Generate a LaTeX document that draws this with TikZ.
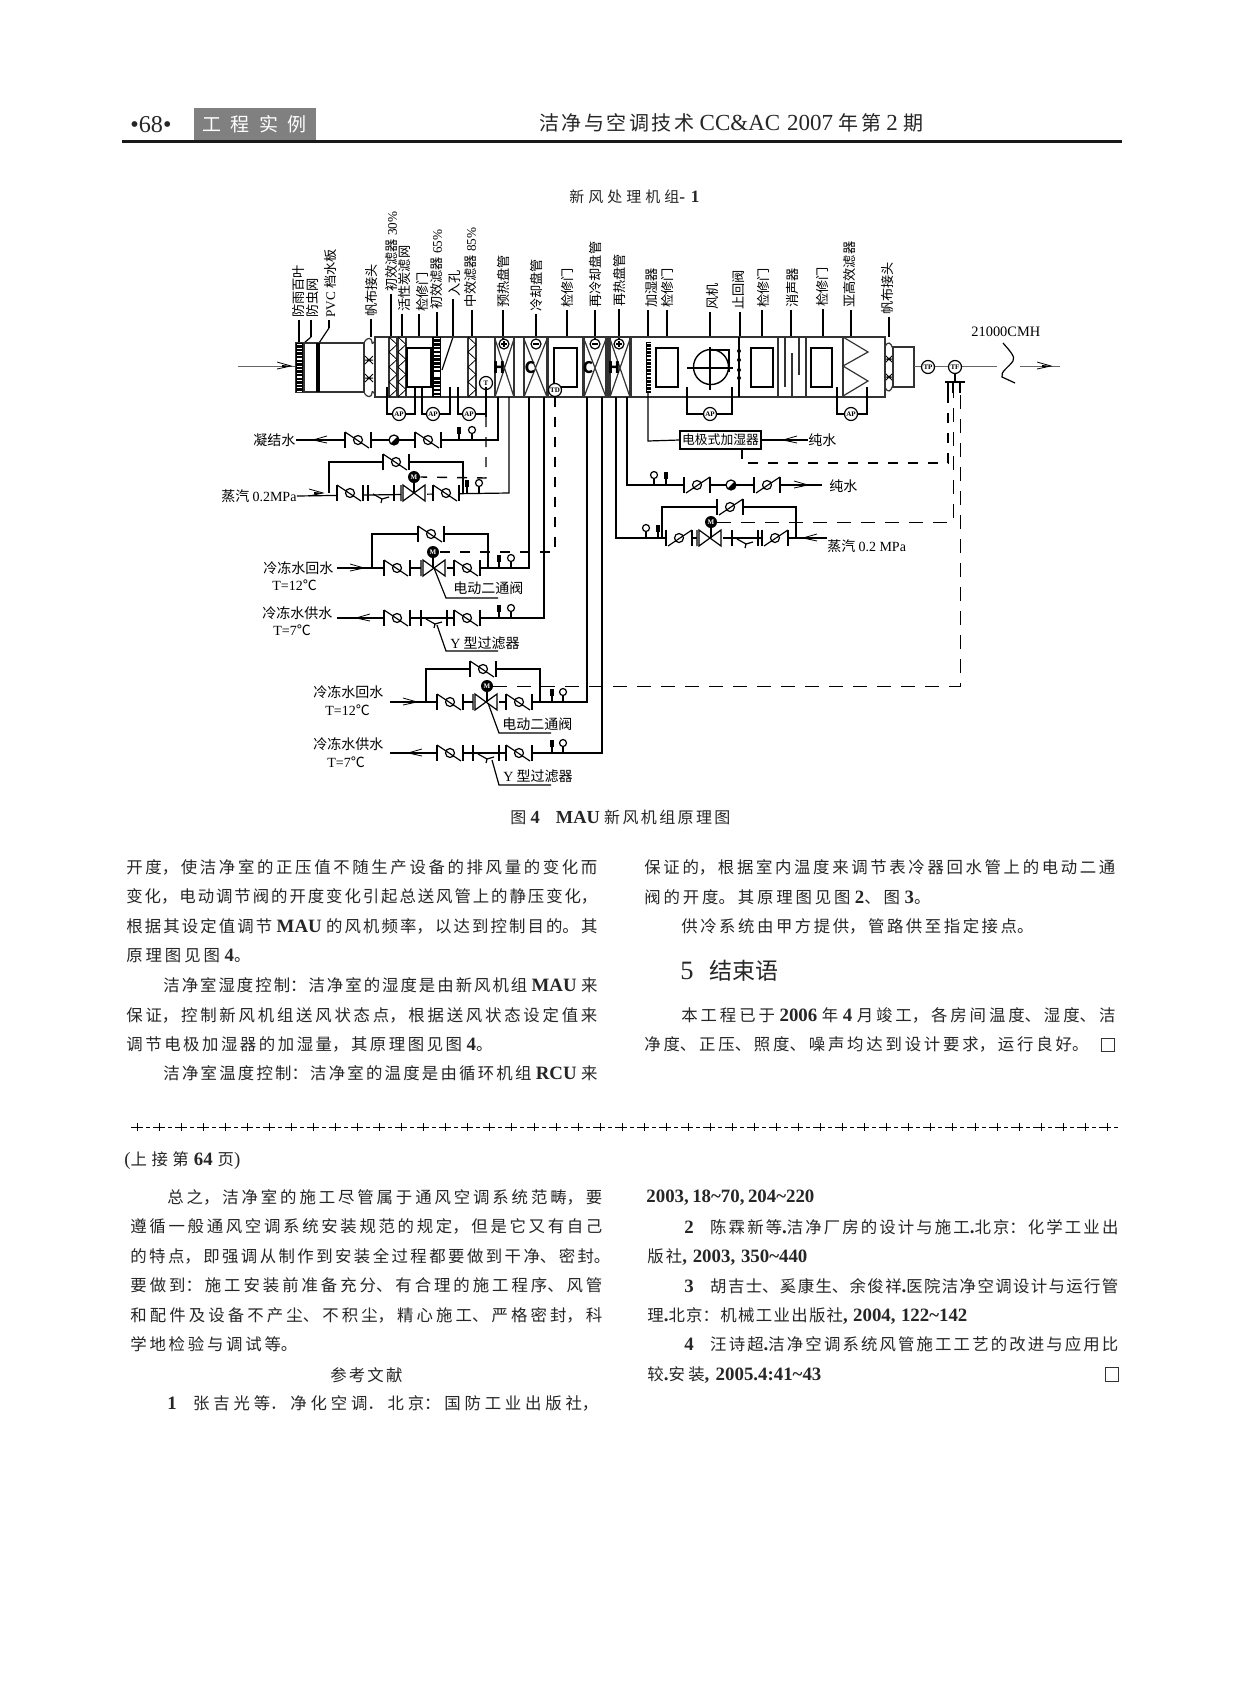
\documentclass[tikz,border=0pt]{standalone}
\usepackage{fontspec}
\setmainfont{Noto Sans CJK SC}
\newfontfamily\tm{Liberation Serif}
\newfontfamily\tmb[Scale=1.15]{Liberation Serif}
\XeTeXlinebreaklocale "zh"
\XeTeXlinebreakskip=0pt plus 3pt
\newcommand{\lat}[1]{{\tm #1}}
\newcommand{\latr}[1]{{\tmb #1}}
\newcommand{\latb}[1]{{\tmb\bfseries #1}}
\tikzset{
  pipe/.style={line width=0.6pt, black},
  unitline/.style={line width=0.6pt, black!80},
  dashthick/.style={line width=0.7pt, dash pattern=on 5pt off 5pt},
  dashthin/.style={line width=0.4pt, dash pattern=on 7pt off 5pt},
  bodyline/.style={anchor=west, inner sep=0pt, align=justify, black!85, font=\fontsize{8.2}{10}\selectfont,
    execute at begin node={\parfillskip=0pt\relax\let\lat\latb}},
  vlabel/.style={rotate=90, anchor=west, inner sep=0pt, inner xsep=1pt, font=\fontsize{6.6}{8}\selectfont},
  sidelabel/.style={anchor=west, inner sep=0pt, font=\fontsize{7}{9}\selectfont},
  templabel/.style={sidelabel, font=\tm\fontsize{7}{9}\selectfont},
  gaugecircle/.style={circle, draw, line width=0.6pt, fill=white, inner sep=0pt, minimum size=6.5pt, font=\tm\bfseries\fontsize{3.5}{4}\selectfont},
  motorhead/.style={circle, fill=black, text=white, inner sep=0pt, minimum size=6pt, font=\tm\bfseries\fontsize{3.5}{4}\selectfont},
  coilletter/.style={inner sep=0pt, font=\bfseries\fontsize{8}{10}\selectfont},
  valvemark/.pic={\fill[white] (-13,-8) rectangle (13,8);
    \draw[pipe] (-13,-8) -- (-13,8) (13,-8) -- (13,8);
    \draw[pipe] (0,0) circle (4.5);
    \draw[pipe] (-13,-8) -- (11,8);},
  twoway/.pic={\fill[white] (-13,-8) rectangle (13,8);
    \draw[pipe] (-13,-8) -- (-13,8) (-11,-8) -- (11,8) -- (11,-8) -- (-11,8) -- cycle;},
  strainer/.pic={\draw[pipe] (-13,-8) -- (-13,8) (13,-8) -- (13,8);
    \draw[pipe] (-8,1) -- (1,6) -- (8,4) (1,6) -- (0,10);},
  ballmark/.pic={\fill[white] (0,0) circle (5);
    \draw[pipe] (0,0) circle (5);
    \fill (3.5,-3.5) arc (-45:135:5) -- cycle;},
  airarrow/.pic={\draw[line width=0.4pt] (-7,-4) -- (7,0) -- (-7,3);
    \fill (-2,-1) -- (7,0) -- (-2,1.5) -- cycle;},
  gaugerect/.pic={\draw[pipe] (0,0) -- (0,-6); \fill (-2,-13) rectangle (2,-6);},
  gaugeround/.pic={\draw[pipe] (0,0) -- (0,-6); \draw[pipe] (0,-10) circle (3.5);},
  jointmark/.pic={\draw[line width=0.5pt] (-4,-4) -- (4,4) (-4,4) -- (4,-4) (-4,0) -- (4,0);
    \fill (0,0) circle (1.5);},
}
\begin{document}
\begin{tikzpicture}[x=0.5pt,y=-0.5pt]
  \fill[white] (0,0) rectangle (1247,1687);
  \path[use as bounding box] (0,0) rectangle (1247,1687);

  % page head
  \fill[black!50] (194,108) rectangle (316,140);
  \fill[black!90] (122,140) rectangle (1122,142.5);
  \node[anchor=west, inner sep=0pt, black!85, font=\tmb\fontsize{10.5}{12}\selectfont] (pagenum) at (130,125) {•68•};
  \node[bodyline, white, text width=52pt, font=\fontsize{9.5}{11}\selectfont] (column) at (202,124) {工程实例};
  \node[bodyline, text width=192pt, font=\fontsize{10}{12}\selectfont] (journal) at (539,123) {洁净与空调技术 \latr{CC\&AC 2007} 年第 \latr{2} 期};
  \node[bodyline, text width=65pt, font=\fontsize{7.5}{9}\selectfont] (title) at (569,197) {新风处理机组\lat{- 1}};

  % labels over the unit
  \foreach \nm/\lx/\ly/\ex/\ey/\txt in {
    lbla/299/320/299/343/防雨百叶, lblb/313/320/311/337/防虫网, lblc/330/320/329/328/\lat{PVC} 档水板,
    lbld/372/319/371/337/帆布接头, lble/392/294/391/337/初效滤器 \lat{30\%}, lblf/405/314/402/337/活性炭滤网,
    lblg/422/314/419/337/检修门, lblh/437/312/437/337/初效滤器 \lat{65\%}, lbli/455/299/453/337/入孔,
    lblj/471/310/472/337/中效滤器 \lat{85\%}, lblk/503/310/503/343/预热盘管, lbll/536/314/536/337/冷却盘管,
    lblm/567/310/567/337/检修门, lbln/595/310/595/339/再冷却盘管, lblo/619/309/619/339/再热盘管,
    lblp/652/310/648/337/加湿器, lblq/667/310/667/337/检修门, lblr/712/312/710/337/风机,
    lbls/738/312/740/337/止回阀, lblt/763/310/762/337/检修门, lblu/792/310/791/337/消声器,
    lblv/822/309/823/337/检修门, lblw/849/310/851/337/亚高效滤器, lblx/888/317/889/337/帆布接头}
  {
    \node[vlabel] (\nm) at (\lx,\ly) {\txt};
    \draw[pipe] (\ex,0 |- \nm.west) -- (\ex,\ey);
  }
  \draw[pipe] (311,337) -- (304,343);
  \draw[pipe] (329,328) -- (319,343);
  \draw[pipe] (453,337) -- (442,370);

  % intake
  \draw[line width=0.4pt, black!60] (238,366) -- (296,366);
  \pic at (284,366) {airarrow};
  \draw[unitline] (296,343) rectangle (364,392);
  \fill (296,343) rectangle (303,392);
  \draw[white, line width=2.5pt, dash pattern=on 0.6pt off 1.2pt] (299.5,344) -- (299.5,391);
  \draw[unitline] (304,343) -- (304,392);
  \fill (316,343) rectangle (320,392);

  % flexible joints
  \draw[unitline] (364,343) .. controls (367,336) and (372,338) .. (372,342) .. controls (372,345) and (373,343) .. (375,341);
  \draw[unitline] (364,392) .. controls (367,399) and (372,397) .. (372,393) .. controls (372,390) and (373,392) .. (375,394);
  \draw[unitline] (885,347) .. controls (888,340) and (891,343) .. (893,349);
  \draw[unitline] (885,387) .. controls (888,394) and (891,391) .. (893,385);
  \foreach \jx/\jy in {369/360, 369/378, 889/359, 889/377} \pic at (\jx,\jy) {jointmark};

  % housing
  \draw[unitline] (375,337) rectangle (885,397);
  \foreach \px in {548,583,607,609,631,778,806,843} \draw[unitline] (\px,337) -- (\px,397);
  \draw[line width=0.8pt] (739,337) -- (739,397);
  \foreach \dy in {351,360,370,378} \fill (739,\dy) circle (2);

  % filters
  \foreach \fx in {389,398,468} {
    \draw[unitline] (\fx,337) rectangle (\fx+8,397);
    \foreach \i in {0,...,7} \draw[line width=0.4pt] ({\fx+8*mod(\i,2)},{337+7.5*\i}) -- ({\fx+8-8*mod(\i,2)},{337+7.5*(\i+1)});
  }
  \fill (432,337) rectangle (441,397);
  \draw[white, line width=3pt, dash pattern=on 0.7pt off 1.2pt] (436.5,338) -- (436.5,396);
  \fill[white] (433.5,372) rectangle (439.5,377);
  \fill (646,342) rectangle (651,393);
  \draw[white, line width=2pt, dash pattern=on 0.6pt off 1.2pt] (648.5,343) -- (648.5,392);

  % access doors
  \foreach \ax/\bx in {407/431,554/577,656/678,751/773,811/832} \draw[line width=0.8pt] (\ax,348) rectangle (\bx,387);

  % coils
  \foreach \cl/\cr in {495/514,524/547,584/606,610/630} {
    \draw[unitline] (\cl,337) -- (\cl,397) (\cr,337) -- (\cr,397);
    \draw[unitline] (\cl,339) -- (\cr,397) (\cr,339) -- (\cl,397);
  }
  \foreach \sx in {504,536,595,619} {\fill[white] (\sx,344) circle (5); \draw[pipe] (\sx,344) circle (5); \draw[pipe] (\sx-3,344) -- (\sx+3,344);}
  \foreach \sx in {504,619} \draw[pipe] (\sx,341) -- (\sx,347);
  \node[coilletter] (coila) at (499,368) {H};
  \node[coilletter] (coilb) at (530,368) {C};
  \node[coilletter] (coilc) at (588,368) {C};
  \node[coilletter] (coild) at (614,368) {H};

  % fan and silencer
  \draw[line width=0.7pt] (711,367) circle (17.5);
  \draw[line width=0.8pt] (711,350) -- (729,350) -- (729,372);
  \draw[pipe] (687,368) -- (733,368) (710,347) -- (710,390);
  \draw[unitline] (785,337) -- (785,387) (792,353) -- (792,397) (799,337) -- (799,375);
  \draw[unitline] (843,337) -- (868,352) -- (843,366) -- (868,381) -- (843,396);

  % outlet
  \draw[unitline] (893,347) rectangle (914,387);
  \draw[line width=0.4pt, black!60] (914,366) -- (997,366) (1020,366) -- (1060,366);
  \pic at (1044,366) {airarrow};
  \draw[pipe] (1003,343) .. controls (1009,350) and (1016,357) .. (1013,361) .. controls (1009,367) and (1000,372) .. (1002,377) -- (1015,383);
  \node[anchor=west, inner sep=0pt, font=\tm\fontsize{7.2}{9}\selectfont] (flow) at (971,332) {21000CMH};

  % instruments
  \node[gaugecircle] (ctlt) at (486,383) {T};
  \node[gaugecircle] (ctld) at (555,390) {TD};
  \node[gaugecircle] (ctlp) at (928,367) {TP};
  \node[gaugecircle] (ctlf) at (955,367) {TF};
  \foreach \nm/\gx/\gl/\gr/\gy in {apa/399/387/415/387, apb/433/422/450/387, apc/469/458/486/387, apd/710/687/732/387, ape/851/837/867/387} {
    \node[gaugecircle] (\nm) at (\gx,414) {AP};
    \draw[pipe] (\gl,\gy) |- (\nm.west) (\nm.east) -| (\gr,\gy);
  }
  \draw[line width=0.8pt] (ctlf.south) -- (955,382) (945,382) -- (965,382);
  \foreach \tx in {948,953,960} \draw[pipe] (\tx,382) -- (\tx,393);

  % condensate
  \node[sidelabel] (cond) at (253,440) {凝结水};
  \draw[pipe] (cond.east) -- (498,440) -- (498,397);
  \pic[xscale=-1] at (320,440) {airarrow};
  \foreach \vx in {358,428} \pic at (\vx,440) {valvemark};
  \pic at (394,440) {ballmark};
  \pic at (459,440) {gaugerect};
  \pic at (472,440) {gaugeround};

  % steam, left
  \node[sidelabel] (steama) at (221,496) {蒸汽 \lat{0.2MPa}};
  \draw[pipe] (steama.east) -- (509,493) -- (509,397);
  \draw[pipe] (329,493) -- (329,462) -- (463,462) -- (463,493);
  \pic at (316,493) {airarrow};
  \foreach \vx/\vy in {350/493,446/493,396/462} \pic at (\vx,\vy) {valvemark};
  \pic at (381,493) {strainer};
  \pic at (414,493) {twoway};
  \node[motorhead] (mota) at (414,477) {M};
  \draw[pipe] (mota) -- (414,493);
  \pic at (467,493) {gaugerect};
  \pic at (479,493) {gaugeround};
  \draw[pipe] (ctlt.south) -- (486,417);
  \draw[dashthick] (486,417) -- (486,478) -- (mota.east);

  % chilled water, first pair
  \node[sidelabel] (rtna) at (263,568) {冷冻水回水};
  \node[templabel] (rtnat) at (272,585) {T=12{\rmfamily ℃}};
  \draw[pipe] (337,568) -- (529,568) -- (529,397);
  \draw[pipe] (372,568) -- (372,534) -- (488,534) -- (488,568);
  \pic at (357,568) {airarrow};
  \foreach \vx/\vy in {397/568,467/568,431/534} \pic at (\vx,\vy) {valvemark};
  \pic at (434,568) {twoway};
  \node[motorhead] (motb) at (433,552) {M};
  \draw[pipe] (motb) -- (433,568);
  \pic at (499,568) {gaugerect};
  \pic at (511,568) {gaugeround};
  \draw[pipe] (434,568) -- (446,598) -- (498,598);
  \node[sidelabel] (vlva) at (453,588) {电动二通阀};
  \draw[dashthick] (ctld.south) -- (555,552) -- (motb.east);

  \node[sidelabel] (supa) at (262,613) {冷冻水供水};
  \node[templabel] (supat) at (273,630) {T=7{\rmfamily ℃}};
  \draw[pipe] (337,618) -- (544,618) -- (544,397);
  \pic[xscale=-1] at (363,618) {airarrow};
  \foreach \vx in {397,467} \pic at (\vx,618) {valvemark};
  \pic at (434,618) {strainer};
  \pic at (499,618) {gaugerect};
  \pic at (511,618) {gaugeround};
  \draw[pipe] (437,625) -- (446,651) -- (498,651);
  \node[sidelabel] (fltra) at (450,643) {\lat{Y} 型过滤器};

  % chilled water, second pair
  \node[sidelabel] (rtnb) at (313,692) {冷冻水回水};
  \node[templabel] (rtnbt) at (325,710) {T=12{\rmfamily ℃}};
  \draw[pipe] (390,702) -- (587,702) -- (587,397);
  \draw[pipe] (426,702) -- (426,669) -- (540,669) -- (540,702);
  \pic at (410,702) {airarrow};
  \foreach \vx/\vy in {450/702,519/702,483/669} \pic at (\vx,\vy) {valvemark};
  \pic at (486,702) {twoway};
  \node[motorhead] (motc) at (487,686) {M};
  \draw[pipe] (motc) -- (487,702);
  \pic at (552,702) {gaugerect};
  \pic at (563,702) {gaugeround};
  \draw[pipe] (488,703) -- (499,733) -- (551,733);
  \node[sidelabel] (vlvb) at (502,724) {电动二通阀};

  \node[sidelabel] (supb) at (313,744) {冷冻水供水};
  \node[templabel] (supbt) at (327,762) {T=7{\rmfamily ℃}};
  \draw[pipe] (390,753) -- (602,753) -- (602,397);
  \pic[xscale=-1] at (415,753) {airarrow};
  \foreach \vx in {450,519} \pic at (\vx,753) {valvemark};
  \pic at (486,753) {strainer};
  \pic at (552,753) {gaugerect};
  \pic at (563,753) {gaugeround};
  \draw[pipe] (492,760) -- (499,785) -- (551,785);
  \node[sidelabel] (fltrb) at (503,776) {\lat{Y} 型过滤器};
  \draw[dashthin] (motc.east) -- (960,686) -- (960,393);

  % humidifier
  \node[draw, line width=0.7pt, inner sep=0pt, minimum width=40.5pt, minimum height=9pt, font=\fontsize{6.4}{8}\selectfont] (humid) at (720.5,440) {电极式加湿器};
  \node[sidelabel] (purea) at (808,440) {纯水};
  \draw[pipe] (648,393) -- (648,441) -- (humid.west);
  \draw[pipe] (humid.east) -- (purea.west);
  \pic[xscale=-1] at (790,440) {airarrow};
  \draw[dashthick] (742,449) -- (742,463) -- (948,463) -- (948,393);

  % pure water
  \node[sidelabel] (pureb) at (829,486) {纯水};
  \draw[pipe] (627,397) -- (627,485) -- (822,485);
  \foreach \vx in {697,767} \pic[xscale=-1] at (\vx,485) {valvemark};
  \pic at (731,485) {ballmark};
  \pic at (801,485) {airarrow};
  \pic at (654,485) {gaugeround};
  \pic at (666,485) {gaugerect};

  % steam, right
  \node[sidelabel] (steamb) at (827,546) {蒸汽 \lat{0.2 MPa}};
  \draw[pipe] (616,397) -- (616,538) -- (827,538);
  \draw[pipe] (662,538) -- (662,507) -- (796,507) -- (796,538);
  \foreach \vx/\vy in {679/538,775/538,730/507} \pic[xscale=-1] at (\vx,\vy) {valvemark};
  \pic at (710,538) {twoway};
  \pic at (745,538) {strainer};
  \pic[xscale=-1] at (810,538) {airarrow};
  \node[motorhead] (motd) at (711,522) {M};
  \draw[pipe] (motd) -- (711,538);
  \pic at (646,538) {gaugeround};
  \pic at (658,538) {gaugerect};
  \draw[dashthin] (motd.east) -- (953,522) -- (953,393);

  \node[bodyline, text width=110pt, font=\fontsize{8}{10}\selectfont] (caption) at (510,817) {图 \lat{4}\quad\lat{MAU} 新风机组原理图};

  % text lines
  \foreach \nm/\lx/\ly/\lw/\txt in {
    ta/126/867/471/开度，使洁净室的正压值不随生产设备的排风量的变化而,
    tb/126/896/471/变化，电动调节阀的开度变化引起总送风管上的静压变化，,
    tc/126/926/471/根据其设定值调节 \lat{MAU} 的风机频率，以达到控制目的。其,
    td/126/956/124/原理图见图 \lat{4}。,
    te/163/985/434/洁净室湿度控制：洁净室的湿度是由新风机组 \lat{MAU} 来,
    tf/126/1015/471/保证，控制新风机组送风状态点，根据送风状态设定值来,
    tg/126/1044/366/调节电极加湿器的加湿量，其原理图见图 \lat{4}。,
    th/163/1073/434/洁净室温度控制：洁净室的温度是由循环机组 \lat{RCU} 来,
    ti/644/867/471/保证的，根据室内温度来调节表冷器回水管上的电动二通,
    tj/644/897/286/阀的开度。其原理图见图 \lat{2}、图 \lat{3}。,
    tk/681/926/352/供冷系统由甲方提供，管路供至指定接点。,
    tl/681/1015/434/本工程已于 \lat{2006} 年 \lat{4} 月竣工，各房间温度、湿度、洁,
    tm/644/1044/444/净度、正压、照度、噪声均达到设计要求，运行良好。,
    tn/167/1197/435/总之，洁净室的施工尽管属于通风空调系统范畴，要,
    to/130/1226/472/遵循一般通风空调系统安装规范的规定，但是它又有自己,
    tp/130/1256/480/的特点，即强调从制作到安装全过程都要做到干净、密封。,
    tq/130/1285/472/要做到：施工安装前准备充分、有合理的施工程序、风管,
    tr/130/1315/472/和配件及设备不产尘、不积尘，精心施工、严格密封，科,
    ts/130/1344/167/学地检验与调试等。,
    tt/167/1403/431/\lat{1}\quad 张吉光等．净化空调．北京：国防工业出版社，,
    tu/646/1198/168/\lat{{2003, 18\textasciitilde 70, 204\textasciitilde 220}},
    tv/684/1227/434/\lat{2}\quad 陈霖新等\lat{.}洁净厂房的设计与施工\lat{.}北京：化学工业出,
    tw/647/1257/160/版社\lat{{, 2003, 350\textasciitilde 440}},
    tx/684/1286/434/\lat{3}\quad 胡吉士、奚康生、余俊祥\lat{.}医院洁净空调设计与运行管,
    ty/647/1316/320/理\lat{.}北京：机械工业出版社\lat{{, 2004, 122\textasciitilde 142}},
    tz/684/1344/434/\lat{4}\quad 汪诗超\lat{.}洁净空调系统风管施工工艺的改进与应用比,
    tzz/647/1375/174/较\lat{.}安装\lat{{, 2005.4:41\textasciitilde 43}}}
  {
    \node[bodyline, text width=\lw*0.5pt] (\nm) at (\lx,\ly) {\txt};
  }
  \node[anchor=west, inner sep=0pt, black!85, font=\fontsize{11.5}{13}\selectfont] (sect) at (680,971) {\latr{5}\hspace{8pt}结束语};
  \node[bodyline, text width=36pt] (refs) at (330,1375) {参考文献};
  \node[bodyline, text width=58pt] (cont) at (124,1161) {\latr{(}上接第 \lat{64} 页\latr{)}};
  \draw[line width=0.5pt, black!80] (1101,1038) rectangle (1114,1051);
  \draw[line width=0.5pt, black!80] (1105,1367) rectangle (1118,1381);

  % separator
  \draw[line width=0.5pt, dash pattern=on 6pt off 1.5pt on 2pt off 1.5pt] (131,1127) -- (1119,1127);
  \foreach \i in {0,...,44} \draw[line width=0.4pt] ({137+22.05*\i},1123) -- ({137+22.05*\i},1131);
\end{tikzpicture}
\end{document}
